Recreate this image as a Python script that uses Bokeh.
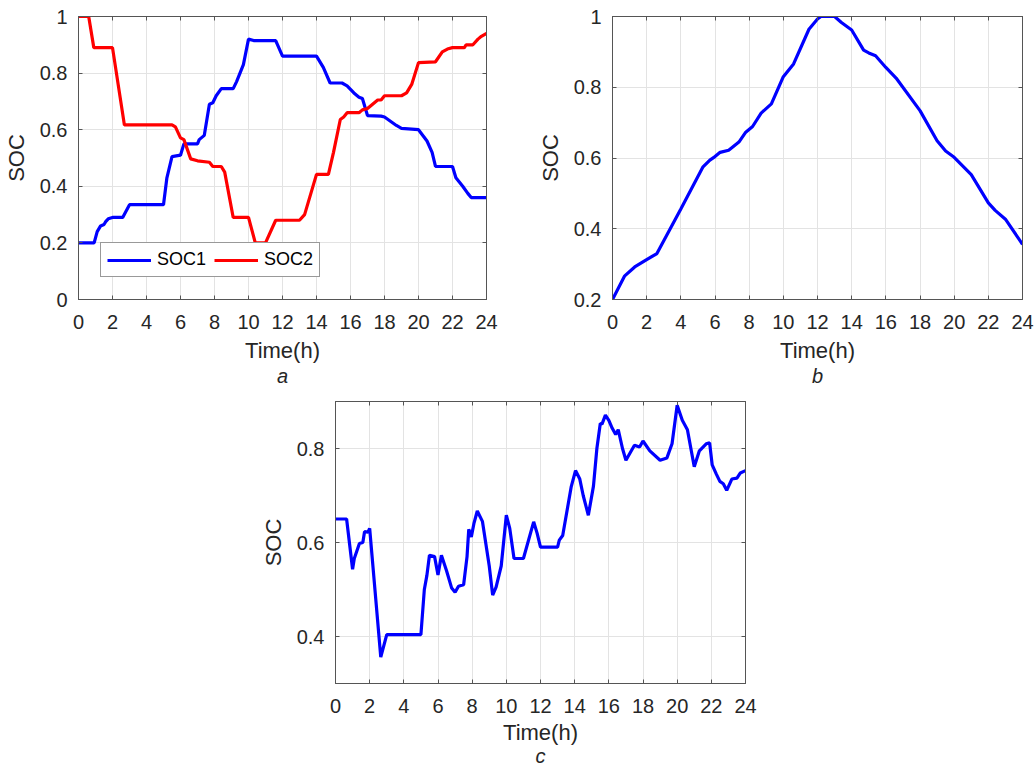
from bokeh.plotting import figure
from bokeh.models import (LinearAxis, FixedTicker, CustomJSTickFormatter, Title,
                          Legend, LegendItem, Range1d, Spacer)
from bokeh.layouts import column, row
from bokeh.embed import file_html
from bokeh.resources import INLINE

# ---------------- data ----------------
x_ticks = [0, 2, 4, 6, 8, 10, 12, 14, 16, 18, 20, 22, 24]
a_y_ticks = [0, 0.2, 0.4, 0.6, 0.8, 1.0]
b_y_ticks = [0.2, 0.4, 0.6, 0.8, 1.0]
c_y_ticks = [0.4, 0.6, 0.8]

a_soc1_t = [0, 0.92, 1.1, 1.3, 1.5, 1.6, 1.75, 2.0, 2.6, 3.0, 5.0, 5.2, 5.5, 6.0, 6.2, 7.0, 7.1, 7.4,
            7.7, 7.9, 8.1, 8.4, 9.1, 9.3, 9.7, 10.0, 10.3, 11.6, 12.0, 14.0, 14.4, 14.8, 15.5, 15.8,
            16.2, 16.5, 16.7, 17.0, 17.8, 18.0, 18.7, 19.0, 20.0, 20.5, 20.8, 21.0, 22.0, 22.2, 22.6,
            22.9, 23.1, 24.0]
a_soc1 = [0.2, 0.2, 0.24, 0.26, 0.265, 0.275, 0.285, 0.29, 0.29, 0.335, 0.335, 0.43, 0.505, 0.51,
          0.55, 0.55, 0.565, 0.58, 0.69, 0.695, 0.72, 0.745, 0.745, 0.77, 0.83, 0.92, 0.915, 0.915,
          0.86, 0.86, 0.82, 0.765, 0.765, 0.755, 0.73, 0.715, 0.71, 0.65, 0.648, 0.645, 0.615, 0.605,
          0.60, 0.56, 0.52, 0.47, 0.47, 0.43, 0.40, 0.375, 0.36, 0.36]

a_soc2_t = [0, 0.6, 0.9, 2.0, 2.7, 5.5, 5.7, 6.0, 6.2, 6.6, 7.0, 7.7, 7.9, 8.4, 8.6, 9.1, 10.0, 10.4,
            11.0, 11.6, 13.0, 13.3, 14.0, 14.7, 15.0, 15.4, 15.6, 15.8, 16.5, 16.7, 17.0, 17.3, 17.6,
            17.8, 18.0, 19.0, 19.3, 19.6, 20.0, 21.0, 21.4, 21.7, 22.0, 22.7, 22.8, 23.2, 23.5, 23.7,
            24.0]
a_soc2 = [1.0, 1.0, 0.89, 0.89, 0.617, 0.617, 0.61, 0.571, 0.565, 0.497, 0.49, 0.485, 0.47, 0.47,
          0.45, 0.29, 0.29, 0.2, 0.2, 0.28, 0.28, 0.30, 0.442, 0.442, 0.52, 0.636, 0.645, 0.66, 0.66,
          0.67, 0.675, 0.69, 0.705, 0.705, 0.72, 0.72, 0.73, 0.76, 0.837, 0.84, 0.875, 0.885, 0.89,
          0.89, 0.90, 0.90, 0.92, 0.93, 0.94]

b_t = [0, 0.7, 1.3, 2.0, 2.6, 4.0, 5.3, 5.7, 6.0, 6.3, 6.8, 7.4, 7.8, 8.2, 8.7, 9.3, 10.0, 10.6,
       11.5, 12.0, 12.2, 13.0, 13.4, 14.0, 14.7, 15.0, 15.4, 16.0, 16.6, 18.0, 19.0, 19.5, 20.0,
       21.0, 22.0, 22.4, 23.0, 24.0]
b_soc = [0.2, 0.266, 0.292, 0.313, 0.33, 0.456, 0.575, 0.594, 0.604, 0.616, 0.622, 0.645, 0.673,
         0.689, 0.727, 0.753, 0.83, 0.866, 0.964, 0.993, 1.0, 1.0, 0.983, 0.962, 0.905, 0.897, 0.889,
         0.856, 0.826, 0.734, 0.649, 0.62, 0.602, 0.553, 0.473, 0.452, 0.427, 0.356]

c_t = [0, 0.65, 1.0, 1.1, 1.4, 1.6, 1.7, 1.9, 2.0, 2.65,
       3.0, 5.0, 5.2, 5.35, 5.5, 5.8, 6.0, 6.2, 6.5, 6.8,
       7.0, 7.2, 7.5, 7.7, 7.8, 7.95, 8.1, 8.3, 8.6, 9.0,
       9.2, 9.4, 9.7, 10.0, 10.2, 10.45, 11.0, 11.6, 11.8, 12.0,
       13.0, 13.1, 13.3, 13.8, 14.05, 14.3, 14.5, 14.8, 15.1, 15.3,
       15.5, 15.6, 15.8, 16.0, 16.2, 16.4, 16.55, 16.8, 17.0, 17.5,
       17.8, 18.0, 18.4, 19.0, 19.4, 19.7, 20.0, 20.3, 20.6, 21.0,
       21.3, 21.7, 21.9, 22.05, 22.3, 22.5, 22.7, 22.9, 23.2, 23.5,
       23.7, 24.0]
c_soc = [0.65, 0.65, 0.543, 0.566, 0.598, 0.60, 0.623, 0.622, 0.63, 0.356,
         0.404, 0.404, 0.50, 0.53, 0.573, 0.57, 0.531, 0.573, 0.54, 0.503,
         0.494, 0.507, 0.51, 0.57, 0.628, 0.612, 0.64, 0.667, 0.645, 0.55,
         0.488, 0.505, 0.55, 0.658, 0.63, 0.566, 0.566, 0.644, 0.62, 0.59,
         0.59, 0.605, 0.615, 0.719, 0.753, 0.735, 0.70, 0.658, 0.72, 0.80,
         0.853, 0.852, 0.871, 0.86, 0.843, 0.83, 0.84, 0.80, 0.775, 0.807,
         0.803, 0.816, 0.795, 0.775, 0.78, 0.81, 0.892, 0.86, 0.84, 0.761,
         0.795, 0.81, 0.812, 0.765, 0.745, 0.73, 0.725, 0.711, 0.735, 0.737,
         0.748, 0.753]

# ---------------- styling ----------------
FONT = "Liberation Sans"
TXT = "#262626"
AX = "#555555"
GRID = "#e3e3e3"


def make_fig(width, height, left, right, top, bottom, yr, yticks, tag, tag_standoff, xlab_standoff):
    p = figure(width=width, height=height, x_range=Range1d(0, 24), y_range=Range1d(*yr),
               output_backend="svg", toolbar_location=None,
               min_border_left=left, min_border_right=right,
               min_border_top=top, min_border_bottom=bottom)
    p.background_fill_color = "white"
    p.border_fill_color = "white"
    p.outline_line_color = AX
    p.outline_line_width = 1
    fmt = CustomJSTickFormatter(code="return String(Math.round(tick*10)/10);")
    blank = CustomJSTickFormatter(code="return '';")
    xt = FixedTicker(ticks=x_ticks)
    yt = FixedTicker(ticks=yticks)
    p.xaxis.ticker = xt
    p.yaxis.ticker = yt
    p.yaxis.formatter = fmt
    p.xgrid.ticker = xt
    p.ygrid.ticker = yt
    for g in (p.xgrid, p.ygrid):
        g.grid_line_color = GRID
        g.grid_line_width = 1
    for ax in (p.xaxis[0], p.yaxis[0]):
        ax.axis_line_color = AX
        ax.major_tick_line_color = AX
        ax.major_tick_in = 4
        ax.major_tick_out = 0
        ax.minor_tick_line_color = None
        ax.major_label_text_font = FONT
        ax.major_label_text_font_size = "20px"
        ax.major_label_text_color = TXT
        ax.axis_label_text_font = FONT
        ax.axis_label_text_font_size = "22px"
        ax.axis_label_text_font_style = "normal"
        ax.axis_label_text_color = TXT
    p.xaxis.axis_label = "Time(h)"
    p.yaxis.axis_label = "SOC"
    p.xaxis.major_label_standoff = 15
    p.xaxis.axis_label_standoff = xlab_standoff
    p.yaxis.major_label_standoff = 11
    p.yaxis.axis_label_standoff = 8
    # box ticks on top and right
    for loc, tk in (("above", xt), ("right", yt)):
        ax = LinearAxis(ticker=tk, formatter=blank, major_tick_in=4,
                        major_tick_out=0, minor_tick_line_color=None, major_label_standoff=0,
                        axis_line_color=AX, major_tick_line_color=AX)
        p.add_layout(ax, loc)
    p.add_layout(Title(text=tag, align="center", text_font=FONT, text_font_size="20px",
                       text_font_style="italic", text_color=TXT, standoff=tag_standoff), "below")
    return p


TOP_H = 392

# ---- a ----
pa = make_fig(530, TOP_H, 76, 44, 16, TOP_H - 299, (0, 1), a_y_ticks, "a", -5, 6)
r1 = pa.line(a_soc1_t, a_soc1, line_color="#0000ff", line_width=3.2)
r2 = pa.line(a_soc2_t, a_soc2, line_color="#ff0000", line_width=3.2)
leg = Legend(items=[LegendItem(label="SOC1", renderers=[r1]), LegendItem(label="SOC2", renderers=[r2])],
             orientation="horizontal", location=(22, 22), padding=6, spacing=8,
             glyph_width=44, glyph_height=20, label_standoff=6, label_text_font=FONT,
             label_text_font_size="18px", label_text_color="#000000",
             border_line_color="#333333", border_line_width=1, background_fill_color="white",
             background_fill_alpha=1.0, margin=0)
pa.add_layout(leg, "center")

# ---- b ----
pb = make_fig(505, TOP_H, 82, 13, 16, TOP_H - 299, (0.2, 1), b_y_ticks, "b", -5, 6)
pb.line(b_t, b_soc, line_color="#0000ff", line_width=3.2)

# ---- c ----
BOT_H = 767 - TOP_H
pc = make_fig(530, BOT_H, 85, 35, 401 - TOP_H, BOT_H - (683 - TOP_H), (0.3, 0.9), c_y_ticks, "c", -10, 4)
pc.line(c_t, c_soc, line_color="#0000ff", line_width=3.2)

layout = column(row(pa, pb), row(Spacer(width=250, height=BOT_H), pc))

with open("out.html", "w") as f:
    f.write(file_html(layout, INLINE))
